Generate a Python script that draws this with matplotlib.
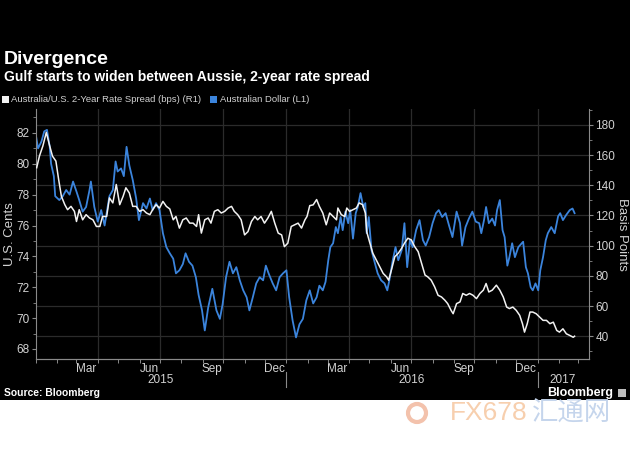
#Imports
import numpy as np
import pandas as pd
import matplotlib
matplotlib.use('Agg')
import matplotlib.pyplot as plt
import matplotlib.dates as mdates
from matplotlib.patches import Patch, Rectangle, Ellipse
from matplotlib.ticker import MultipleLocator, FixedLocator, NullFormatter
from matplotlib.transforms import blended_transform_factory

#Data (days counted from 1 Jan 2015)

start = pd.Timestamp('2015-01-01')

aud_days = [0, 3, 8, 12, 16, 20, 22, 26, 28, 34, 39, 44, 49, 54, 59, 63, 68, 73, 78, 80,
            85, 90, 95, 100, 103, 107, 112, 116, 119, 124, 128, 132, 136, 141, 146, 150, 156, 161, 166, 170,
            175, 180, 185, 190, 195, 200, 204, 209, 214, 218, 223, 228, 233, 237, 242, 246, 251, 257, 263, 268,
            272, 277, 282, 287, 292, 297, 302, 307, 311, 316, 321, 326, 331, 335, 339, 345, 350, 355, 360, 365,
            369, 374, 379, 384, 389, 394, 399, 404, 409, 413, 418, 422, 426, 429, 433, 437, 440, 444, 447, 451,
            455, 458, 462, 466, 469, 473, 477, 480, 482, 485, 489, 494, 498, 503, 508, 512, 515, 520, 524, 528,
            533, 537, 541, 545, 549, 554, 559, 564, 568, 573, 578, 583, 587, 592, 597, 602, 607, 613, 618, 621,
            626, 631, 636, 641, 646, 649, 653, 656, 660, 665, 669, 672, 676, 680, 683, 687, 690, 694, 698, 703,
            708, 710, 714, 717, 721, 724, 728, 732, 735, 739, 743, 746, 751, 756, 761, 764, 768, 773, 778, 782,
            785]
aud_cents = [81.8, 81.0, 81.45, 82.1, 82.2, 81.1, 80.0, 79.2, 77.9, 77.65, 77.9, 78.3, 78.0, 78.85, 78.2, 77.65, 76.9, 77.2, 78.3, 78.85,
             77.2, 76.25, 77.0, 76.0, 76.8, 77.9, 78.3, 80.15, 79.5, 79.7, 79.2, 81.1, 79.9, 78.95, 77.75, 76.35, 77.45, 77.1, 77.75, 77.0,
             77.45, 77.0, 75.5, 74.6, 74.2, 73.85, 72.9, 73.1, 73.5, 74.2, 73.65, 73.4, 72.65, 71.5, 70.5, 69.2, 70.7, 71.9, 70.5, 69.95,
             70.9, 72.65, 73.65, 72.9, 73.3, 72.45, 71.8, 71.35, 70.5, 71.35, 72.25, 72.65, 72.45, 73.4, 72.9, 72.25, 71.8, 72.65, 72.9, 73.1,
             71.35, 69.85, 68.75, 69.6, 69.95, 71.15, 71.8, 70.95, 71.35, 72.1, 71.8, 72.35, 73.75, 74.6, 74.85, 75.9, 75.5, 76.55, 75.7, 76.9,
             76.15, 77.0, 75.15, 76.8, 77.2, 78.1, 77.2, 77.45, 75.5, 76.55, 74.4, 73.55, 72.9, 72.45, 72.25, 71.8, 72.45, 73.75, 74.6, 73.75,
             74.4, 76.15, 73.3, 75.05, 74.6, 75.7, 76.35, 75.05, 74.7, 75.25, 76.15, 76.8, 77.0, 76.55, 76.8, 76.0, 75.25, 76.9, 76.15, 74.7,
             75.9, 76.45, 76.9, 76.25, 76.15, 75.5, 76.35, 77.2, 76.15, 76.45, 76.0, 77.0, 77.65, 75.7, 75.25, 73.4, 73.95, 74.85, 73.95, 74.6,
             74.85, 74.95, 73.3, 72.9, 72.0, 71.8, 72.25, 71.8, 73.1, 73.95, 75.05, 75.5, 75.9, 75.5, 76.6, 76.8, 76.35, 76.7, 77.0, 77.1,
             76.8]

spread_days = [1, 5, 10, 15, 20, 24, 29, 33, 37, 42, 46, 51, 56, 59, 63, 68, 73, 78, 83, 88,
               93, 97, 103, 107, 112, 117, 122, 127, 131, 136, 141, 146, 151, 156, 161, 166, 170, 175, 180, 185,
               190, 195, 200, 204, 209, 214, 219, 224, 229, 234, 237, 241, 246, 251, 255, 260, 265, 270, 275, 280,
               285, 289, 294, 299, 304, 309, 314, 319, 323, 328, 333, 338, 343, 348, 353, 358, 362, 367, 372, 377,
               382, 387, 392, 395, 399, 404, 409, 413, 418, 423, 428, 433, 438, 440, 445, 450, 453, 457, 462, 467,
               471, 476, 480, 482, 486, 491, 496, 501, 506, 511, 514, 518, 523, 528, 533, 537, 542, 547, 552, 557,
               562, 567, 571, 576, 581, 586, 591, 596, 600, 605, 608, 613, 618, 622, 627, 632, 637, 642, 647, 652,
               656, 660, 665, 671, 676, 681, 686, 690, 695, 700, 705, 709, 712, 716, 720, 724, 729, 734, 739, 744,
               749, 754, 759, 763, 768, 773, 778, 783, 785]
spread_bps = [151.6, 159.3, 166, 175, 166, 159.3, 156, 143.8, 132.7, 127.1, 123.8, 126, 122.7, 116, 123.8, 117.1, 120.5, 118.3, 117.1, 112.7,
              112.7, 119.3, 119.3, 131.6, 128.3, 140.5, 127.1, 132.7, 138.3, 134.9, 126, 126, 122.7, 123.8, 121.6, 120.5, 123.8, 127.1, 124.9, 129.3,
              126, 124.3, 117.1, 119.3, 111.6, 117.1, 118.3, 114.9, 114.9, 112.7, 120.5, 108.3, 117.1, 118.3, 114.9, 122.7, 123.8, 121.6, 122.7, 124.9,
              126, 122.7, 120.5, 117.1, 107.1, 109.3, 116, 119.3, 117.1, 119.3, 114.9, 118.3, 122.7, 114.9, 108.3, 107.1, 99.3, 101.6, 112.7, 113.8,
              114.9, 111.6, 117.1, 119.3, 126.5, 127, 130.5, 126, 121.6, 113.8, 121.6, 119.3, 117.1, 124.9, 120.5, 119.3, 124.9, 122.7, 123.8, 124.9,
              128.3, 127.1, 121.6, 109.3, 102.7, 94.9, 90.5, 86, 81.6, 79.3, 77.1, 83.8, 92.7, 94.9, 98.3, 101.6, 104.9, 103.8, 99.3, 96,
              88.3, 80.5, 79.3, 77.1, 72.7, 67.1, 66, 63.8, 61.6, 57.1, 54.9, 61.6, 62.7, 68.3, 67.1, 68.3, 67.1, 64.9, 68.3, 70.5,
              74.9, 69.3, 70.5, 73.8, 70.5, 66, 59.3, 58.3, 59.3, 57.1, 53.8, 48.3, 42.7, 48.3, 56, 56, 54.9, 52.7, 50.5, 50.5,
              48.3, 49.3, 43.8, 42.7, 44.9, 41.6, 40.5, 39.3, 40]

left_ticks = [68, 70, 72, 74, 76, 78, 80, 82]
right_ticks = [40, 60, 80, 100, 120, 140, 160, 180]
month_labels = ['Mar', 'Jun', 'Sep', 'Dec', 'Mar', 'Jun', 'Sep', 'Dec']
label_months = ['2015-03-15', '2015-06-15', '2015-09-15', '2015-12-15',
                '2016-03-15', '2016-06-15', '2016-09-15', '2016-12-15']
years = ['2015', '2016', '2017']
year_mids = ['2015-07-02', '2016-07-02', '2017-02-07']
year_breaks = ['2016-01-01', '2017-01-01']

aud_dates = start + pd.to_timedelta(aud_days, unit='D')
spread_dates = start + pd.to_timedelta(spread_days, unit='D')

#Style

plt.rcParams['font.family'] = ['Liberation Sans', 'DejaVu Sans']
blue = '#3b84dc'
white = '#f2f2f2'
tick_col = '#d2d2d2'
axis_col = '#8a8a8a'
grid_col = '#2b2b2b'

fig = plt.figure(figsize=(6.3, 4.5), dpi=100, facecolor='white')
fig.patches.append(Rectangle((0, 50 / 450), 1, 400 / 450, transform=fig.transFigure,
                             facecolor='black', edgecolor='none', zorder=-10))

ax = fig.add_axes([36 / 630, (450 - 359) / 450, (589 - 36) / 630, (359 - 109) / 450])
ax.set_facecolor('black')
ax2 = ax.twinx()

x0 = start
x1 = start + pd.Timedelta(days=806)
ax.set_xlim(x0, x1)

#Gridlines (drawn on the lower axes so they sit behind both lines)

for q in pd.date_range('2015-04-01', '2017-01-01', freq='QS'):
    ax.axvline(q, color=grid_col, lw=0.9, zorder=0)
gtrans = blended_transform_factory(ax.transAxes, ax2.transData)
for b in right_ticks:
    ax.plot([0, 1], [b, b], color=grid_col, lw=0.9, transform=gtrans, zorder=0)

#Lines

ax.plot(aud_dates, aud_cents, color=blue, lw=1.3, zorder=2)
ax2.plot(spread_dates, spread_bps, color=white, lw=1.1, zorder=3)
ax.set_xlim(x0, x1)
ax.set_ylim(67.35, 83.55)
ax2.set_ylim(24.9, 190.5)

#Axes styling

for a in (ax, ax2):
    a.spines['top'].set_visible(False)
    for s in ['left', 'right', 'bottom']:
        a.spines[s].set_color(axis_col)
        a.spines[s].set_linewidth(0.8)
ax.spines['right'].set_visible(False)
ax2.spines['left'].set_visible(False)

ax.yaxis.set_major_locator(FixedLocator(left_ticks))
ax.yaxis.set_minor_locator(MultipleLocator(1))
ax2.yaxis.set_major_locator(FixedLocator(right_ticks))
ax2.yaxis.set_minor_locator(MultipleLocator(10))

ax.tick_params(axis='y', which='major', colors=axis_col, labelcolor=tick_col, labelsize=8.5, length=3, width=0.8, pad=1.5)
ax.tick_params(axis='y', which='minor', colors=axis_col, length=2, width=0.6)
ax2.tick_params(axis='y', which='major', colors=axis_col, labelcolor=tick_col, labelsize=8.5, length=3, width=0.8, pad=1.5)
ax2.tick_params(axis='y', which='minor', colors=axis_col, length=2, width=0.6)

ax.xaxis.set_major_locator(FixedLocator(mdates.date2num(pd.to_datetime(label_months))))
ax.xaxis.set_major_formatter(matplotlib.ticker.FixedFormatter(month_labels))
ax.xaxis.set_minor_locator(mdates.MonthLocator())
ax.xaxis.set_minor_formatter(NullFormatter())
ax.tick_params(axis='x', which='major', length=0, labelcolor=tick_col, labelsize=8.5, pad=3)
ax.tick_params(axis='x', which='minor', colors=axis_col, length=3, width=0.7)

ytrans = blended_transform_factory(ax.transData, ax.transAxes)
for yr, mid in zip(years, year_mids):
    ax.text(pd.Timestamp(mid), -0.084, yr, transform=ytrans, ha='center', va='center',
            color=tick_col, fontsize=8.5)
for br in year_breaks:
    ax.plot([pd.Timestamp(br)] * 2, [-0.052, -0.112], transform=ytrans, color=axis_col,
            lw=0.8, clip_on=False)

ax.set_ylabel('U.S. Cents', color=tick_col, fontsize=9.5, labelpad=0)
ax2.set_ylabel('Basis Points', color=tick_col, fontsize=9.5, rotation=270, labelpad=9)

#Titles, legend, source

fig.text(4 / 630, 1 - 60 / 450, 'Divergence', color='white', fontsize=14, fontweight='bold', va='center')
fig.text(4 / 630, 1 - 77 / 450, 'Gulf starts to widen between Aussie, 2-year rate spread', color='white',
         fontsize=10, fontweight='bold', va='center')
handles = [Patch(facecolor=white, edgecolor='none'), Patch(facecolor=blue, edgecolor='none')]
fig.legend(handles, ['Australia/U.S. 2-Year Rate Spread (bps) (R1)', 'Australian Dollar (L1)'],
           loc='center left', bbox_to_anchor=(2 / 630, 1 - 100 / 450), ncol=2, frameon=False,
           fontsize=6.8, labelcolor=tick_col, handlelength=0.7, handleheight=0.7,
           handletextpad=0.3, columnspacing=0.9, borderaxespad=0, borderpad=0)

fig.text(4 / 630, 1 - 393 / 450, 'Source: Bloomberg', color='white', fontsize=7.4, fontweight='bold', va='center')
fig.text(613 / 630, 1 - 393 / 450, 'Bloomberg', color='white', fontsize=9, fontweight='bold', va='center', ha='right')
fig.patches.append(Rectangle((618 / 630, 1 - 397 / 450), 8 / 630, 8 / 450, transform=fig.transFigure,
                             facecolor='#bdbdbd', edgecolor='none'))

#Watermark below the chart

fig.patches.append(Ellipse((417 / 630, 1 - 413 / 450), 18 / 630, 18 / 450, transform=fig.transFigure,
                           facecolor='none', edgecolor='#f3c2ac', lw=3))
fig.text(450 / 630, 1 - 413 / 450, 'FX678', color='#f7cfae', fontsize=19, va='center',
         family=['Liberation Sans Narrow', 'Liberation Sans'])
fig.text(532 / 630, 1 - 413 / 450, '汇通网', color='#c5d5ec', fontsize=19, va='center',
         family=['Noto Sans CJK SC', 'DejaVu Sans'])

fig.savefig('out.png', dpi=100, facecolor=fig.get_facecolor())
